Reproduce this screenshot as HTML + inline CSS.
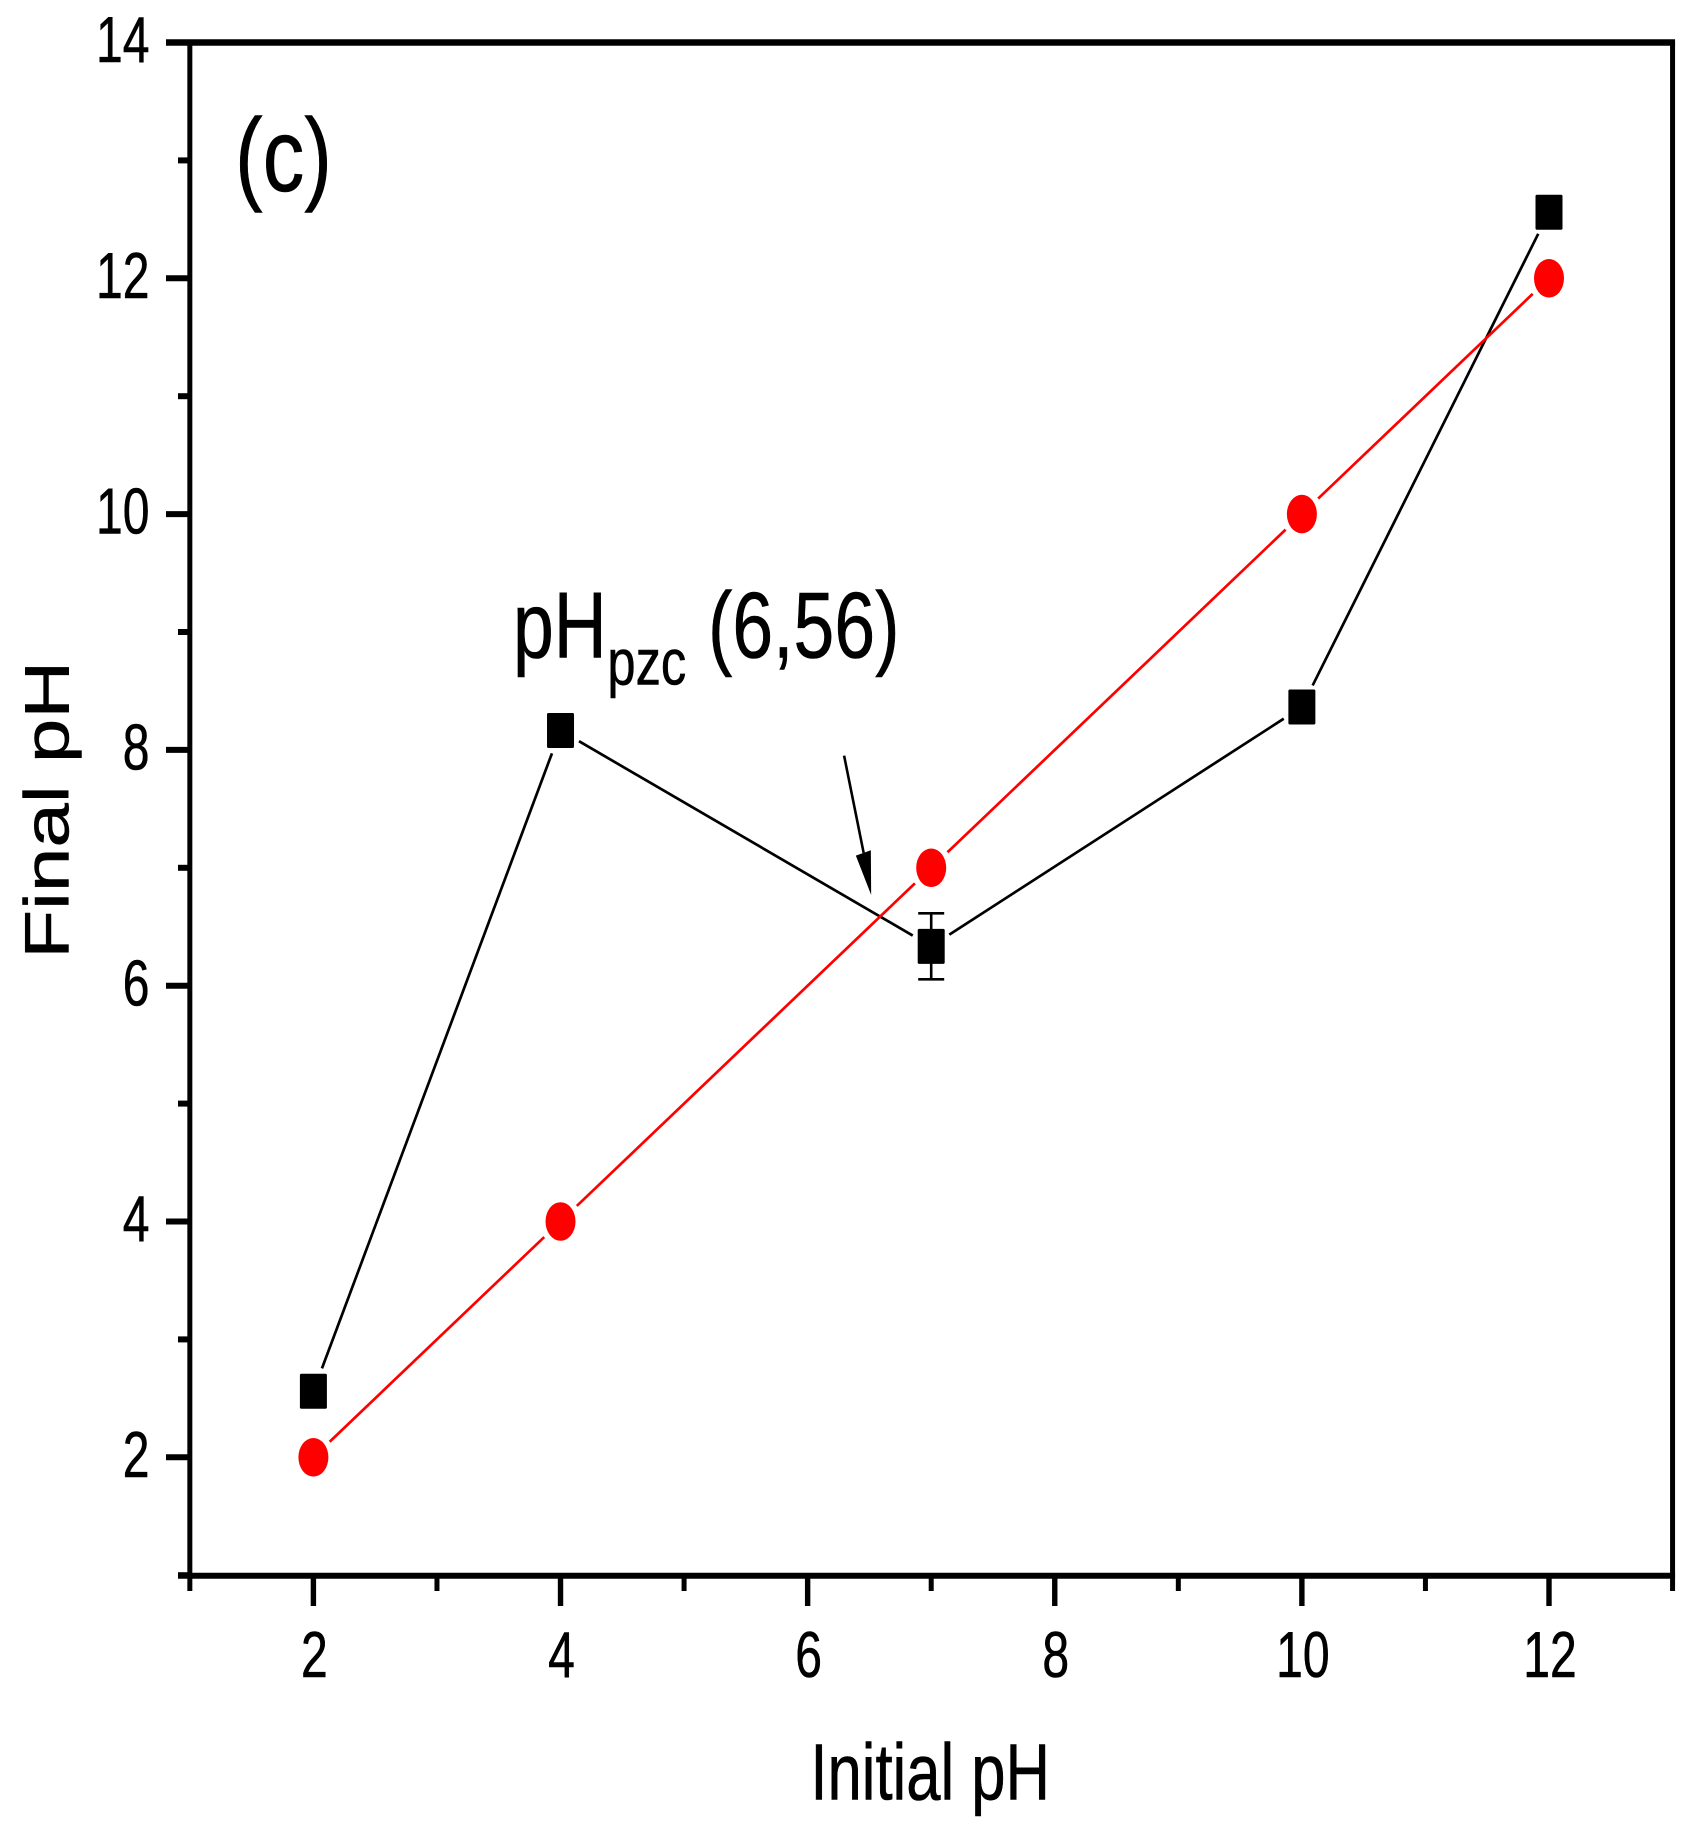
<!DOCTYPE html>
<html lang="en">
<head>
<meta charset="utf-8">
<title>Final pH vs Initial pH</title>
<style>
  html, body { margin: 0; padding: 0; background: #fff; }
  svg { display: block; }
  text { font-family: "Liberation Sans", Arial, sans-serif; fill: #000; stroke: #000; stroke-width: 0.6px; }
</style>
</head>
<body>
<svg id="chart" xmlns="http://www.w3.org/2000/svg" width="1699" height="1833" viewBox="0 0 1699 1833">
  <rect x="0" y="0" width="1699" height="1833" fill="#fff"/>
  <text transform="translate(235,191) scale(0.8,1)" font-size="104">(c)</text>
  <text transform="translate(810.4,1799.3) scale(0.77,1)" font-size="80">Initial pH</text>
  <text transform="translate(68.3,958.7) rotate(-90) scale(1,0.79)" font-size="80">Final pH</text>
  <text transform="translate(513,657.7) scale(0.78,1)" font-size="94"><tspan x="0" y="0">pH</tspan><tspan x="121" y="26.6" font-size="65">pzc </tspan><tspan x="250" y="0">(6,56)</tspan></text>
</svg>
<script>
// Chart data
const initialPh = [2, 4, 7, 10, 12];
const finalPhMeasured = [2.56, 8.165, 6.334, 8.364, 12.56];
const finalPhErrors = [0, 0, 0.28, 0, 0];
const finalPhReference = [2, 4, 7, 10, 12];
const xMajorTicks = [2, 4, 6, 8, 10, 12];
const xMinorTicks = [1, 3, 5, 7, 9, 11, 13];
const yMajorTicks = [2, 4, 6, 8, 10, 12, 14];
const yMinorTicks = [1, 3, 5, 7, 9, 11, 13];
const xTickLabels = ['2', '4', '6', '8', '10', '12'];
const yTickLabels = ['2', '4', '6', '8', '10', '12', '14'];
const xDomain = [1, 13];
const yDomain = [1, 14];
const pzcArrowFrom = [6.295, 7.951];
const pzcArrowTo = [6.514, 6.77];

const svg = document.getElementById('chart');
const NS = 'http://www.w3.org/2000/svg';

function xScale(v) { return 313.4 + (v - 2) * 123.56; }
function yScale(v) { return 1457.3 - (v - 2) * 117.9; }

function make(tag, attrs) {
  const el = document.createElementNS(NS, tag);
  for (const k in attrs) el.setAttribute(k, attrs[k]);
  return el;
}

// Frame
const frameLeft = xScale(xDomain[0]);
const frameRight = xScale(xDomain[1]);
const frameTop = yScale(yDomain[1]);
const frameBottom = yScale(yDomain[0]) + 0.6;

const leftAxis = make('line', { x1: frameLeft, x2: frameLeft, y1: frameTop, y2: frameBottom, stroke: '#000', 'stroke-width': 5 });


svg.appendChild(leftAxis);

const rightAxis = make('line', { x1: frameRight, x2: frameRight, y1: frameTop, y2: frameBottom, stroke: '#000', 'stroke-width': 5 });


svg.appendChild(rightAxis);

const topAxis = make('line', { x1: 166, x2: frameRight + 2.5, y1: frameTop, y2: frameTop, stroke: '#000', 'stroke-width': 6.4 });


svg.appendChild(topAxis);

const bottomAxis = make('line', { x1: 178, x2: frameRight + 2.5, y1: frameBottom, y2: frameBottom, stroke: '#000', 'stroke-width': 6 });


svg.appendChild(bottomAxis);

// X ticks
xMajorTicks.forEach(function (v, i) {
  const tick = make('line', { x1: xScale(v), x2: xScale(v), y1: frameBottom, y2: 1606, stroke: '#000', 'stroke-width': 5.4 });
  
  
  svg.appendChild(tick);
  const label = make('text', { transform: 'translate(' + (xScale(v) + 1) + ',1677) scale(0.74,1)', 'font-size': 65, 'text-anchor': 'middle' });
  label.textContent = xTickLabels[i];
  
  
  svg.appendChild(label);
});
xMinorTicks.forEach(function (v) {
  const tick = make('line', { x1: xScale(v), x2: xScale(v), y1: frameBottom, y2: 1591, stroke: '#000', 'stroke-width': 5 });
  
  
  svg.appendChild(tick);
});

// Y ticks
yMajorTicks.forEach(function (v, i) {
  const tick = make('line', { x1: 166, x2: frameLeft, y1: yScale(v), y2: yScale(v), stroke: '#000', 'stroke-width': 6 });
  
  
  svg.appendChild(tick);
  const label = make('text', { transform: 'translate(149.5,' + (yScale(v) + 19.6) + ') scale(0.74,1)', 'font-size': 65, 'text-anchor': 'end' });
  label.textContent = yTickLabels[i];
  
  
  svg.appendChild(label);
});
yMinorTicks.forEach(function (v) {
  const tick = make('line', { x1: 178, x2: frameLeft, y1: yScale(v), y2: yScale(v), stroke: '#000', 'stroke-width': 6 });
  
  
  svg.appendChild(tick);
});

// Connecting line segments stop short of the markers
function trimmedSegment(x1, y1, x2, y2) {
  const dx = x2 - x1, dy = y2 - y1;
  const len = Math.hypot(dx, dy);
  const c = dx / len, s = dy / len;
  const gap = Math.hypot(20 * c, 25 * s);
  return { x1: x1 + c * gap, y1: y1 + s * gap, x2: x2 - c * gap, y2: y2 - s * gap };
}

function drawSegments(values, color, name) {
  for (let i = 0; i < initialPh.length - 1; i++) {
    const seg = trimmedSegment(xScale(initialPh[i]), yScale(values[i]), xScale(initialPh[i + 1]), yScale(values[i + 1]));
    const line = make('line', { x1: seg.x1, y1: seg.y1, x2: seg.x2, y2: seg.y2, stroke: color, 'stroke-width': 2.7 });
    
    
    svg.appendChild(line);
  }
}

drawSegments(finalPhMeasured, '#000', 'measured-line-segment');
drawSegments(finalPhReference, '#f00', 'reference-line-segment');

// Error bars
initialPh.forEach(function (v, i) {
  const err = finalPhErrors[i];
  if (!err) return;
  const cx = xScale(v);
  const top = yScale(finalPhMeasured[i] + err);
  const bottom = yScale(finalPhMeasured[i] - err);
  const d = 'M' + cx + ' ' + top + 'V' + bottom + 'M' + (cx - 13) + ' ' + top + 'H' + (cx + 13) + 'M' + (cx - 13) + ' ' + bottom + 'H' + (cx + 13);
  const bar = make('path', { d: d, fill: 'none', stroke: '#000', 'stroke-width': 2.6 });
  
  
  svg.appendChild(bar);
});

// Markers
initialPh.forEach(function (v, i) {
  const square = make('rect', { x: xScale(v) - 13.5, y: yScale(finalPhMeasured[i]) - 17.5, width: 27, height: 35, rx: 1.5, fill: '#000' });
  
  
  svg.appendChild(square);
});
initialPh.forEach(function (v, i) {
  const dot = make('ellipse', { cx: xScale(v), cy: yScale(finalPhReference[i]), rx: 15, ry: 19.3, fill: '#f00' });
  
  
  svg.appendChild(dot);
});

// Annotation arrow
const tipX = xScale(pzcArrowTo[0]);
const tipY = yScale(pzcArrowTo[1]);
const shaft = make('line', { x1: xScale(pzcArrowFrom[0]), y1: yScale(pzcArrowFrom[1]), x2: tipX - 7.5, y2: tipY - 42, stroke: '#000', 'stroke-width': 2.6 });


svg.appendChild(shaft);
const head = make('polygon', { points: tipX + ',' + tipY + ' ' + (tipX - 15.3) + ',' + (tipY - 39.3) + ' ' + (tipX - 0.3) + ',' + (tipY - 44.7), fill: '#000' });


svg.appendChild(head);
</script>
</body>
</html>
